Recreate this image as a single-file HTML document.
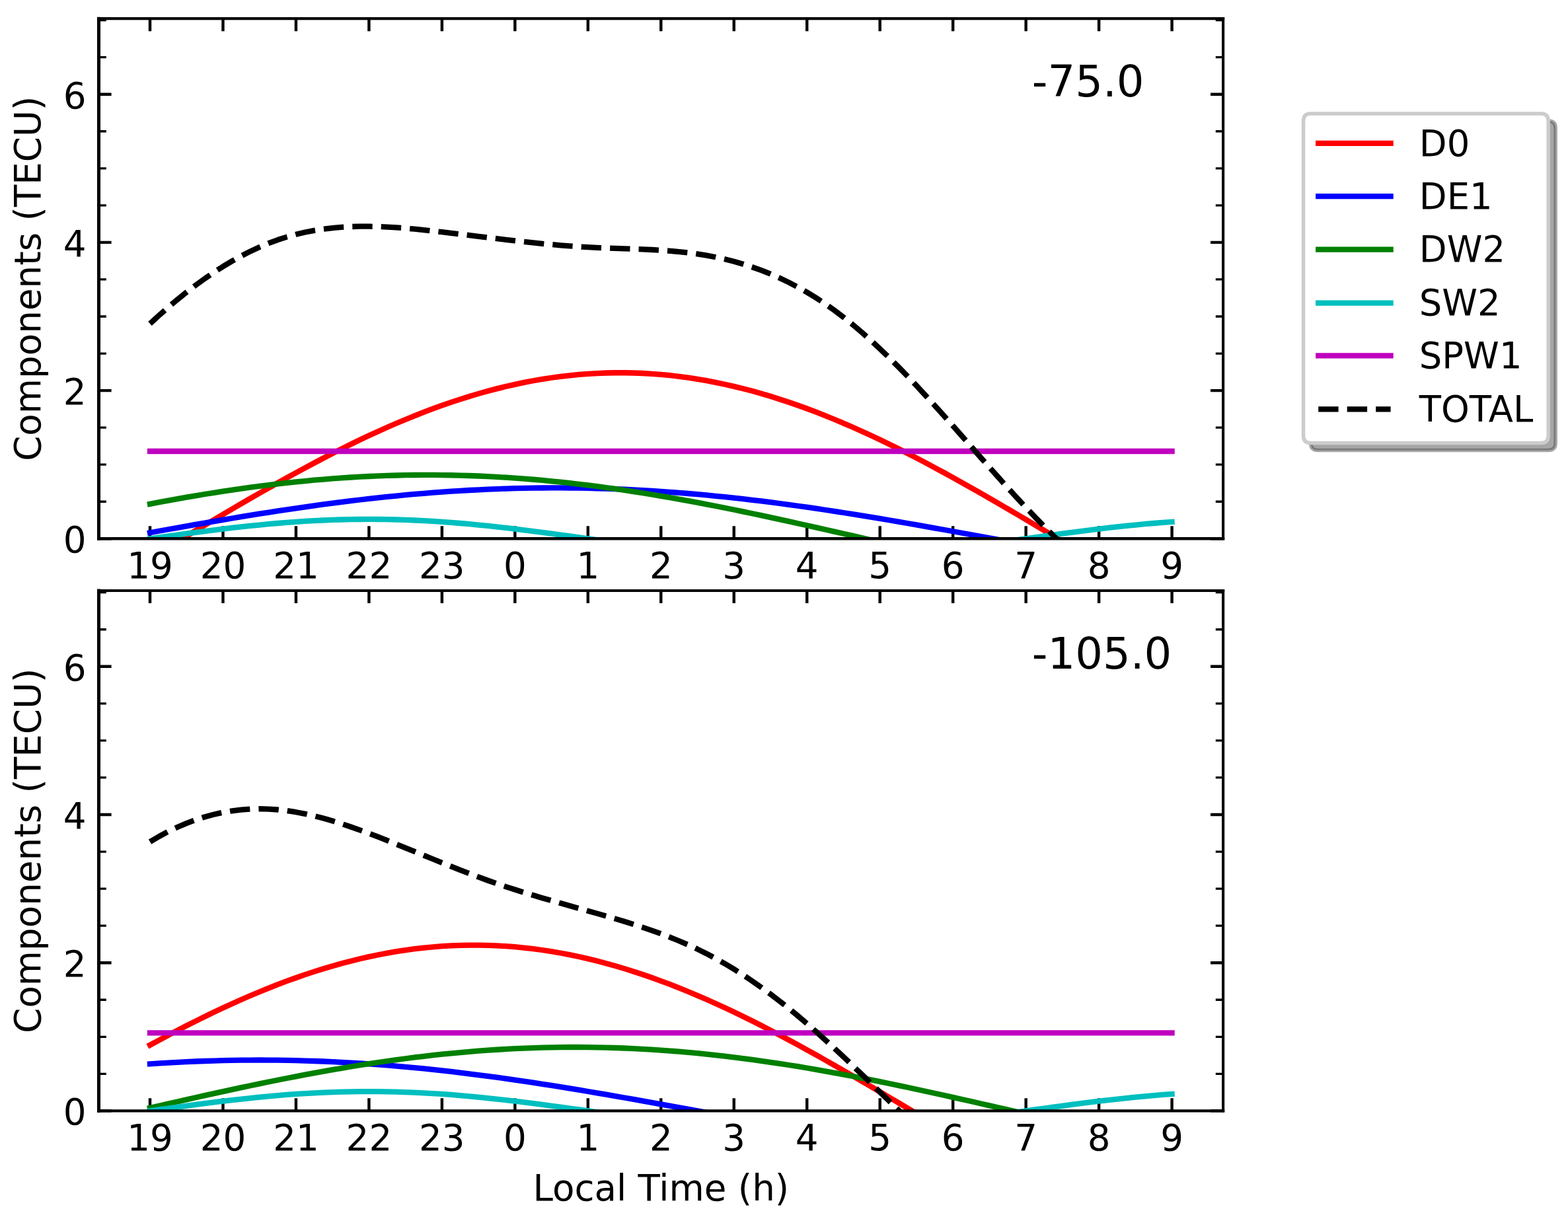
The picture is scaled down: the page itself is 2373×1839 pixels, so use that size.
<!DOCTYPE html>
<html lang="en">
<head>
<meta charset="utf-8">
<title>Tidal components versus local time</title>
<style>
html,body{margin:0;padding:0;background:#ffffff;}
body{width:2373px;height:1839px;overflow:hidden;}
svg{display:block;}
text{font-family:"DejaVu Sans", "Liberation Sans", sans-serif;}
</style>
</head>
<body>
<svg width="2373" height="1839" viewBox="0 0 2373 1839" role="img" aria-label="Tidal components of TEC versus local time at two longitudes" font-family='"DejaVu Sans", "Liberation Sans", sans-serif' fill="#000">
<rect x="0" y="0" width="2373" height="1839" fill="#ffffff"/>
<g id="panel1">
<clipPath id="clip1"><rect x="149.5" y="28.15" width="1701.6" height="787.15"/></clipPath>
<g stroke="#000" stroke-width="4.4" fill="none">
<path d="M227 815.3V796.2M227 28.15V47.25"/>
<path d="M337.47 815.3V796.2M337.47 28.15V47.25"/>
<path d="M447.94 815.3V796.2M447.94 28.15V47.25"/>
<path d="M558.41 815.3V796.2M558.41 28.15V47.25"/>
<path d="M668.88 815.3V796.2M668.88 28.15V47.25"/>
<path d="M779.35 815.3V796.2M779.35 28.15V47.25"/>
<path d="M889.82 815.3V796.2M889.82 28.15V47.25"/>
<path d="M1000.29 815.3V796.2M1000.29 28.15V47.25"/>
<path d="M1110.76 815.3V796.2M1110.76 28.15V47.25"/>
<path d="M1221.23 815.3V796.2M1221.23 28.15V47.25"/>
<path d="M1331.7 815.3V796.2M1331.7 28.15V47.25"/>
<path d="M1442.17 815.3V796.2M1442.17 28.15V47.25"/>
<path d="M1552.64 815.3V796.2M1552.64 28.15V47.25"/>
<path d="M1663.11 815.3V796.2M1663.11 28.15V47.25"/>
<path d="M1773.58 815.3V796.2M1773.58 28.15V47.25"/>
<path d="M149.5 815.3H168.6M1851.1 815.3H1832"/>
<path d="M149.5 591.1H168.6M1851.1 591.1H1832"/>
<path d="M149.5 366.9H168.6M1851.1 366.9H1832"/>
<path d="M149.5 142.7H168.6M1851.1 142.7H1832"/>
</g>
<g stroke="#000" stroke-width="3.3" fill="none">
<path d="M149.5 759.25H160.8M1851.1 759.25H1839.8"/>
<path d="M149.5 703.2H160.8M1851.1 703.2H1839.8"/>
<path d="M149.5 647.15H160.8M1851.1 647.15H1839.8"/>
<path d="M149.5 535.05H160.8M1851.1 535.05H1839.8"/>
<path d="M149.5 479H160.8M1851.1 479H1839.8"/>
<path d="M149.5 422.95H160.8M1851.1 422.95H1839.8"/>
<path d="M149.5 310.85H160.8M1851.1 310.85H1839.8"/>
<path d="M149.5 254.8H160.8M1851.1 254.8H1839.8"/>
<path d="M149.5 198.75H160.8M1851.1 198.75H1839.8"/>
<path d="M149.5 86.65H160.8M1851.1 86.65H1839.8"/>
<path d="M149.5 30.6H160.8M1851.1 30.6H1839.8"/>
</g>
<g clip-path="url(#clip1)" fill="none" stroke-width="8.3" stroke-linejoin="round">
<polyline stroke="#ff0000" stroke-linecap="square" points="227,844.16 240.81,835.98 254.62,827.79 268.43,819.57 282.24,811.36 296.04,803.14 309.85,794.94 323.66,786.77 337.47,778.62 351.28,770.51 365.09,762.45 378.9,754.45 392.7,746.51 406.51,738.64 420.32,730.86 434.13,723.17 447.94,715.57 461.75,708.09 475.56,700.72 489.37,693.47 503.18,686.35 516.98,679.37 530.79,672.53 544.6,665.85 558.41,659.33 572.22,652.97 586.03,646.79 599.84,640.79 613.64,634.98 627.45,629.35 641.26,623.93 655.07,618.72 668.88,613.71 682.69,608.92 696.5,604.35 710.31,600.01 724.12,595.89 737.92,592.01 751.73,588.37 765.54,584.98 779.35,581.83 793.16,578.93 806.97,576.28 820.78,573.89 834.59,571.76 848.39,569.89 862.2,568.28 876.01,566.94 889.82,565.86 903.63,565.05 917.44,564.51 931.25,564.23 945.05,564.23 958.86,564.49 972.67,565.02 986.48,565.82 1000.29,566.89 1014.1,568.22 1027.91,569.82 1041.72,571.68 1055.53,573.8 1069.33,576.18 1083.14,578.82 1096.95,581.71 1110.76,584.85 1124.57,588.23 1138.38,591.86 1152.19,595.73 1165.99,599.84 1179.8,604.17 1193.61,608.73 1207.42,613.51 1221.23,618.51 1235.04,623.72 1248.85,629.13 1262.66,634.75 1276.46,640.55 1290.27,646.55 1304.08,652.72 1317.89,659.07 1331.7,665.59 1345.51,672.26 1359.32,679.09 1373.13,686.07 1386.93,693.18 1400.74,700.42 1414.55,707.79 1428.36,715.27 1442.17,722.86 1455.98,730.55 1469.79,738.33 1483.6,746.19 1497.4,754.13 1511.21,762.13 1525.02,770.19 1538.83,778.29 1552.64,786.44 1566.45,794.62 1580.26,802.81 1594.07,811.03 1607.88,819.24 1621.68,827.46 1635.49,835.66 1649.3,843.83 1663.11,851.98 1676.92,860.09 1690.73,868.15 1704.54,876.15 1718.35,884.09 1732.15,891.96 1745.96,899.74 1759.77,907.43 1773.58,915.03"/>
<polyline stroke="#0000ff" stroke-linecap="square" points="227,806.26 240.81,803.77 254.62,801.29 268.43,798.82 282.24,796.37 296.04,793.94 309.85,791.54 323.66,789.16 337.47,786.8 351.28,784.48 365.09,782.19 378.9,779.94 392.7,777.72 406.51,775.55 420.32,773.42 434.13,771.33 447.94,769.29 461.75,767.3 475.56,765.36 489.37,763.47 503.18,761.64 516.98,759.87 530.79,758.15 544.6,756.5 558.41,754.91 572.22,753.38 586.03,751.92 599.84,750.53 613.64,749.21 627.45,747.96 641.26,746.78 655.07,745.68 668.88,744.64 682.69,743.69 696.5,742.81 710.31,742.01 724.12,741.29 737.92,740.64 751.73,740.08 765.54,739.6 779.35,739.2 793.16,738.87 806.97,738.64 820.78,738.48 834.59,738.41 848.39,738.41 862.2,738.5 876.01,738.68 889.82,738.93 903.63,739.27 917.44,739.69 931.25,740.19 945.05,740.77 958.86,741.42 972.67,742.16 986.48,742.98 1000.29,743.87 1014.1,744.84 1027.91,745.89 1041.72,747.01 1055.53,748.2 1069.33,749.47 1083.14,750.81 1096.95,752.21 1110.76,753.68 1124.57,755.22 1138.38,756.82 1152.19,758.49 1165.99,760.22 1179.8,762 1193.61,763.84 1207.42,765.74 1221.23,767.69 1235.04,769.69 1248.85,771.74 1262.66,773.84 1276.46,775.98 1290.27,778.16 1304.08,780.39 1317.89,782.65 1331.7,784.94 1345.51,787.27 1359.32,789.63 1373.13,792.02 1386.93,794.43 1400.74,796.86 1414.55,799.31 1428.36,801.78 1442.17,804.27 1455.98,806.76 1469.79,809.27 1483.6,811.78 1497.4,814.29 1511.21,816.81 1525.02,819.32 1538.83,821.84 1552.64,824.34 1566.45,826.83 1580.26,829.31 1594.07,831.78 1607.88,834.23 1621.68,836.66 1635.49,839.06 1649.3,841.44 1663.11,843.8 1676.92,846.12 1690.73,848.41 1704.54,850.66 1718.35,852.88 1732.15,855.05 1745.96,857.18 1759.77,859.27 1773.58,861.31"/>
<polyline stroke="#008000" stroke-linecap="square" points="227,762.79 240.81,760.18 254.62,757.62 268.43,755.12 282.24,752.69 296.04,750.32 309.85,748.03 323.66,745.81 337.47,743.66 351.28,741.58 365.09,739.59 378.9,737.68 392.7,735.85 406.51,734.11 420.32,732.45 434.13,730.88 447.94,729.4 461.75,728.02 475.56,726.72 489.37,725.53 503.18,724.42 516.98,723.42 530.79,722.51 544.6,721.71 558.41,721 572.22,720.4 586.03,719.89 599.84,719.49 613.64,719.19 627.45,719 641.26,718.9 655.07,718.91 668.88,719.03 682.69,719.24 696.5,719.56 710.31,719.98 724.12,720.51 737.92,721.13 751.73,721.86 765.54,722.69 779.35,723.61 793.16,724.64 806.97,725.76 820.78,726.97 834.59,728.29 848.39,729.69 862.2,731.19 876.01,732.77 889.82,734.45 903.63,736.21 917.44,738.05 931.25,739.98 945.05,741.99 958.86,744.08 972.67,746.24 986.48,748.48 1000.29,750.79 1014.1,753.17 1027.91,755.62 1041.72,758.12 1055.53,760.7 1069.33,763.32 1083.14,766.01 1096.95,768.75 1110.76,771.53 1124.57,774.37 1138.38,777.24 1152.19,780.16 1165.99,783.12 1179.8,786.11 1193.61,789.13 1207.42,792.18 1221.23,795.26 1235.04,798.35 1248.85,801.47 1262.66,804.6 1276.46,807.74 1290.27,810.88 1304.08,814.04 1317.89,817.19 1331.7,820.35 1345.51,823.49 1359.32,826.63 1373.13,829.76 1386.93,832.87 1400.74,835.96 1414.55,839.03 1428.36,842.08 1442.17,845.09 1455.98,848.08 1469.79,851.02 1483.6,853.93 1497.4,856.8 1511.21,859.63 1525.02,862.41 1538.83,865.13 1552.64,867.81 1566.45,870.42 1580.26,872.98 1594.07,875.48 1607.88,877.91 1621.68,880.28 1635.49,882.57 1649.3,884.79 1663.11,886.94 1676.92,889.02 1690.73,891.01 1704.54,892.92 1718.35,894.75 1732.15,896.49 1745.96,898.15 1759.77,899.72 1773.58,901.2"/>
<polyline stroke="#00bfbf" stroke-linecap="square" points="227,815.3 240.81,813.38 254.62,811.47 268.43,809.57 282.24,807.7 296.04,805.86 309.85,804.06 323.66,802.31 337.47,800.61 351.28,798.98 365.09,797.42 378.9,795.93 392.7,794.53 406.51,793.22 420.32,792 434.13,790.88 447.94,789.86 461.75,788.96 475.56,788.17 489.37,787.49 503.18,786.93 516.98,786.49 530.79,786.18 544.6,785.99 558.41,785.93 572.22,785.99 586.03,786.18 599.84,786.49 613.64,786.93 627.45,787.49 641.26,788.17 655.07,788.96 668.88,789.86 682.69,790.88 696.5,792 710.31,793.22 724.12,794.53 737.92,795.93 751.73,797.42 765.54,798.98 779.35,800.61 793.16,802.31 806.97,804.06 820.78,805.86 834.59,807.7 848.39,809.57 862.2,811.47 876.01,813.38 889.82,815.3 903.63,817.22 917.44,819.13 931.25,821.03 945.05,822.9 958.86,824.74 972.67,826.54 986.48,828.29 1000.29,829.99 1014.1,831.62 1027.91,833.18 1041.72,834.67 1055.53,836.07 1069.33,837.38 1083.14,838.6 1096.95,839.72 1110.76,840.74 1124.57,841.64 1138.38,842.43 1152.19,843.11 1165.99,843.67 1179.8,844.11 1193.61,844.42 1207.42,844.61 1221.23,844.67 1235.04,844.61 1248.85,844.42 1262.66,844.11 1276.46,843.67 1290.27,843.11 1304.08,842.43 1317.89,841.64 1331.7,840.74 1345.51,839.72 1359.32,838.6 1373.13,837.38 1386.93,836.07 1400.74,834.67 1414.55,833.18 1428.36,831.62 1442.17,829.99 1455.98,828.29 1469.79,826.54 1483.6,824.74 1497.4,822.9 1511.21,821.03 1525.02,819.13 1538.83,817.22 1552.64,815.3 1566.45,813.38 1580.26,811.47 1594.07,809.57 1607.88,807.7 1621.68,805.86 1635.49,804.06 1649.3,802.31 1663.11,800.61 1676.92,798.98 1690.73,797.42 1704.54,795.93 1718.35,794.53 1732.15,793.22 1745.96,792 1759.77,790.88 1773.58,789.86"/>
<polyline stroke="#bf00bf" stroke-linecap="square" points="227,683.02 240.81,683.02 254.62,683.02 268.43,683.02 282.24,683.02 296.04,683.02 309.85,683.02 323.66,683.02 337.47,683.02 351.28,683.02 365.09,683.02 378.9,683.02 392.7,683.02 406.51,683.02 420.32,683.02 434.13,683.02 447.94,683.02 461.75,683.02 475.56,683.02 489.37,683.02 503.18,683.02 516.98,683.02 530.79,683.02 544.6,683.02 558.41,683.02 572.22,683.02 586.03,683.02 599.84,683.02 613.64,683.02 627.45,683.02 641.26,683.02 655.07,683.02 668.88,683.02 682.69,683.02 696.5,683.02 710.31,683.02 724.12,683.02 737.92,683.02 751.73,683.02 765.54,683.02 779.35,683.02 793.16,683.02 806.97,683.02 820.78,683.02 834.59,683.02 848.39,683.02 862.2,683.02 876.01,683.02 889.82,683.02 903.63,683.02 917.44,683.02 931.25,683.02 945.05,683.02 958.86,683.02 972.67,683.02 986.48,683.02 1000.29,683.02 1014.1,683.02 1027.91,683.02 1041.72,683.02 1055.53,683.02 1069.33,683.02 1083.14,683.02 1096.95,683.02 1110.76,683.02 1124.57,683.02 1138.38,683.02 1152.19,683.02 1165.99,683.02 1179.8,683.02 1193.61,683.02 1207.42,683.02 1221.23,683.02 1235.04,683.02 1248.85,683.02 1262.66,683.02 1276.46,683.02 1290.27,683.02 1304.08,683.02 1317.89,683.02 1331.7,683.02 1345.51,683.02 1359.32,683.02 1373.13,683.02 1386.93,683.02 1400.74,683.02 1414.55,683.02 1428.36,683.02 1442.17,683.02 1455.98,683.02 1469.79,683.02 1483.6,683.02 1497.4,683.02 1511.21,683.02 1525.02,683.02 1538.83,683.02 1552.64,683.02 1566.45,683.02 1580.26,683.02 1594.07,683.02 1607.88,683.02 1621.68,683.02 1635.49,683.02 1649.3,683.02 1663.11,683.02 1676.92,683.02 1690.73,683.02 1704.54,683.02 1718.35,683.02 1732.15,683.02 1745.96,683.02 1759.77,683.02 1773.58,683.02"/>
<polyline stroke="#000" stroke-linecap="butt" stroke-dasharray="30.4 13.1" points="227,489.9 240.81,477.24 254.62,465.08 268.43,453.44 282.24,442.33 296.04,431.76 309.85,421.75 323.66,412.3 337.47,403.43 351.28,395.15 365.09,387.47 378.9,380.41 392.7,373.99 406.51,368.2 420.32,363.07 434.13,358.59 447.94,354.75 461.75,351.51 475.56,348.83 489.37,346.68 503.18,345.03 516.98,343.83 530.79,343.06 544.6,342.68 558.41,342.66 572.22,342.96 586.03,343.54 599.84,344.38 613.64,345.44 627.45,346.67 641.26,348.06 655.07,349.56 668.88,351.14 682.69,352.77 696.5,354.43 710.31,356.11 724.12,357.8 737.92,359.48 751.73,361.15 765.54,362.79 779.35,364.38 793.16,365.92 806.97,367.39 820.78,368.78 834.59,370.09 848.39,371.28 862.2,372.36 876.01,373.31 889.82,374.12 903.63,374.79 917.44,375.34 931.25,375.83 945.05,376.29 958.86,376.78 972.67,377.33 986.48,377.99 1000.29,378.79 1014.1,379.8 1027.91,381.04 1041.72,382.56 1055.53,384.41 1069.33,386.63 1083.14,389.26 1096.95,392.32 1110.76,395.82 1124.57,399.79 1138.38,404.25 1152.19,409.22 1165.99,414.71 1179.8,420.76 1193.61,427.37 1207.42,434.57 1221.23,442.38 1235.04,450.81 1248.85,459.89 1262.66,469.64 1276.46,480.07 1290.27,491.16 1304.08,502.86 1317.89,515.14 1331.7,527.95 1345.51,541.26 1359.32,555.01 1373.13,569.18 1386.93,583.71 1400.74,598.57 1414.55,613.71 1428.36,629.07 1442.17,644.61 1455.98,660.27 1469.79,675.97 1483.6,691.68 1497.4,707.32 1511.21,722.84 1525.02,738.18 1538.83,753.28 1552.64,768.1 1566.45,782.58 1580.26,796.74 1594.07,810.58 1607.88,824.09 1621.68,837.27 1635.49,850.13 1649.3,862.66 1663.11,874.86 1676.92,886.74 1690.73,898.3 1704.54,909.53 1718.35,920.43 1732.15,931 1745.96,941.25 1759.77,951.17 1773.58,960.77"/>
</g>
<g stroke="#000" fill="none" stroke-linecap="square"><path d="M149.5 28.15V815.3" stroke-width="5"/><path d="M1851.1 28.15V815.3" stroke-width="4.1"/><path d="M149.5 28.15H1851.1" stroke-width="4.2"/><path d="M149.5 815.3H1851.1" stroke-width="4.4"/></g>
<g font-size="54.7" text-anchor="middle">
<text x="227" y="875.3">19</text>
<text x="337.47" y="875.3">20</text>
<text x="447.94" y="875.3">21</text>
<text x="558.41" y="875.3">22</text>
<text x="668.88" y="875.3">23</text>
<text x="779.35" y="875.3">0</text>
<text x="889.82" y="875.3">1</text>
<text x="1000.29" y="875.3">2</text>
<text x="1110.76" y="875.3">3</text>
<text x="1221.23" y="875.3">4</text>
<text x="1331.7" y="875.3">5</text>
<text x="1442.17" y="875.3">6</text>
<text x="1552.64" y="875.3">7</text>
<text x="1663.11" y="875.3">8</text>
<text x="1773.58" y="875.3">9</text>
</g>
<g font-size="54.7" text-anchor="end">
<text x="130.5" y="836.1">0</text>
<text x="130.5" y="611.9">2</text>
<text x="130.5" y="387.7">4</text>
<text x="130.5" y="163.5">6</text>
</g>
<text font-size="54.7" text-anchor="middle" transform="translate(61.1 421.72) rotate(-90)">Components (TECU)</text>
<text font-size="65.6" x="1561.8" y="145.72">-75.0</text>
</g>
<g id="panel2">
<clipPath id="clip2"><rect x="149.5" y="894" width="1701.6" height="787.4"/></clipPath>
<g stroke="#000" stroke-width="4.4" fill="none">
<path d="M227 1681.4V1662.3M227 894V913.1"/>
<path d="M337.47 1681.4V1662.3M337.47 894V913.1"/>
<path d="M447.94 1681.4V1662.3M447.94 894V913.1"/>
<path d="M558.41 1681.4V1662.3M558.41 894V913.1"/>
<path d="M668.88 1681.4V1662.3M668.88 894V913.1"/>
<path d="M779.35 1681.4V1662.3M779.35 894V913.1"/>
<path d="M889.82 1681.4V1662.3M889.82 894V913.1"/>
<path d="M1000.29 1681.4V1662.3M1000.29 894V913.1"/>
<path d="M1110.76 1681.4V1662.3M1110.76 894V913.1"/>
<path d="M1221.23 1681.4V1662.3M1221.23 894V913.1"/>
<path d="M1331.7 1681.4V1662.3M1331.7 894V913.1"/>
<path d="M1442.17 1681.4V1662.3M1442.17 894V913.1"/>
<path d="M1552.64 1681.4V1662.3M1552.64 894V913.1"/>
<path d="M1663.11 1681.4V1662.3M1663.11 894V913.1"/>
<path d="M1773.58 1681.4V1662.3M1773.58 894V913.1"/>
<path d="M149.5 1681.4H168.6M1851.1 1681.4H1832"/>
<path d="M149.5 1457.2H168.6M1851.1 1457.2H1832"/>
<path d="M149.5 1233H168.6M1851.1 1233H1832"/>
<path d="M149.5 1008.8H168.6M1851.1 1008.8H1832"/>
</g>
<g stroke="#000" stroke-width="3.3" fill="none">
<path d="M149.5 1625.35H160.8M1851.1 1625.35H1839.8"/>
<path d="M149.5 1569.3H160.8M1851.1 1569.3H1839.8"/>
<path d="M149.5 1513.25H160.8M1851.1 1513.25H1839.8"/>
<path d="M149.5 1401.15H160.8M1851.1 1401.15H1839.8"/>
<path d="M149.5 1345.1H160.8M1851.1 1345.1H1839.8"/>
<path d="M149.5 1289.05H160.8M1851.1 1289.05H1839.8"/>
<path d="M149.5 1176.95H160.8M1851.1 1176.95H1839.8"/>
<path d="M149.5 1120.9H160.8M1851.1 1120.9H1839.8"/>
<path d="M149.5 1064.85H160.8M1851.1 1064.85H1839.8"/>
<path d="M149.5 952.75H160.8M1851.1 952.75H1839.8"/>
<path d="M149.5 896.7H160.8M1851.1 896.7H1839.8"/>
</g>
<g clip-path="url(#clip2)" fill="none" stroke-width="8.3" stroke-linejoin="round">
<polyline stroke="#ff0000" stroke-linecap="square" points="227,1581.76 240.81,1574.28 254.62,1566.92 268.43,1559.68 282.24,1552.56 296.04,1545.59 309.85,1538.76 323.66,1532.08 337.47,1525.57 351.28,1519.22 365.09,1513.04 378.9,1507.05 392.7,1501.24 406.51,1495.62 420.32,1490.2 434.13,1484.99 447.94,1479.99 461.75,1475.2 475.56,1470.64 489.37,1466.3 503.18,1462.19 516.98,1458.31 530.79,1454.68 544.6,1451.28 558.41,1448.14 572.22,1445.24 586.03,1442.6 599.84,1440.21 613.64,1438.08 627.45,1436.21 641.26,1434.6 655.07,1433.26 668.88,1432.18 682.69,1431.37 696.5,1430.83 710.31,1430.56 724.12,1430.55 737.92,1430.81 751.73,1431.35 765.54,1432.15 779.35,1433.21 793.16,1434.54 806.97,1436.14 820.78,1438 834.59,1440.12 848.39,1442.5 862.2,1445.13 876.01,1448.02 889.82,1451.15 903.63,1454.54 917.44,1458.16 931.25,1462.03 945.05,1466.13 958.86,1470.46 972.67,1475.02 986.48,1479.79 1000.29,1484.79 1014.1,1489.99 1027.91,1495.4 1041.72,1501.01 1055.53,1506.81 1069.33,1512.8 1083.14,1518.97 1096.95,1525.31 1110.76,1531.82 1124.57,1538.49 1138.38,1545.31 1152.19,1552.28 1165.99,1559.39 1179.8,1566.63 1193.61,1573.99 1207.42,1581.46 1221.23,1589.04 1235.04,1596.73 1248.85,1604.5 1262.66,1612.35 1276.46,1620.28 1290.27,1628.28 1304.08,1636.33 1317.89,1644.43 1331.7,1652.56 1345.51,1660.73 1359.32,1668.93 1373.13,1677.13 1386.93,1685.34 1400.74,1693.55 1414.55,1701.74 1428.36,1709.91 1442.17,1718.05 1455.98,1726.15 1469.79,1734.2 1483.6,1742.2 1497.4,1750.13 1511.21,1757.99 1525.02,1765.76 1538.83,1773.45 1552.64,1781.04 1566.45,1788.52 1580.26,1795.88 1594.07,1803.12 1607.88,1810.24 1621.68,1817.21 1635.49,1824.04 1649.3,1830.72 1663.11,1837.23 1676.92,1843.58 1690.73,1849.76 1704.54,1855.75 1718.35,1861.56 1732.15,1867.18 1745.96,1872.6 1759.77,1877.81 1773.58,1882.81"/>
<polyline stroke="#0000ff" stroke-linecap="square" points="227,1610.35 240.81,1609.43 254.62,1608.58 268.43,1607.81 282.24,1607.12 296.04,1606.51 309.85,1605.98 323.66,1605.53 337.47,1605.16 351.28,1604.87 365.09,1604.66 378.9,1604.54 392.7,1604.5 406.51,1604.54 420.32,1604.66 434.13,1604.87 447.94,1605.16 461.75,1605.53 475.56,1605.98 489.37,1606.51 503.18,1607.12 516.98,1607.81 530.79,1608.58 544.6,1609.43 558.41,1610.35 572.22,1611.35 586.03,1612.43 599.84,1613.58 613.64,1614.8 627.45,1616.1 641.26,1617.46 655.07,1618.89 668.88,1620.39 682.69,1621.96 696.5,1623.58 710.31,1625.27 724.12,1627.02 737.92,1628.83 751.73,1630.7 765.54,1632.61 779.35,1634.59 793.16,1636.61 806.97,1638.68 820.78,1640.79 834.59,1642.95 848.39,1645.15 862.2,1647.39 876.01,1649.66 889.82,1651.97 903.63,1654.31 917.44,1656.68 931.25,1659.08 945.05,1661.5 958.86,1663.94 972.67,1666.4 986.48,1668.87 1000.29,1671.36 1014.1,1673.86 1027.91,1676.37 1041.72,1678.88 1055.53,1681.4 1069.33,1683.92 1083.14,1686.43 1096.95,1688.94 1110.76,1691.44 1124.57,1693.93 1138.38,1696.4 1152.19,1698.86 1165.99,1701.3 1179.8,1703.72 1193.61,1706.12 1207.42,1708.49 1221.23,1710.83 1235.04,1713.14 1248.85,1715.41 1262.66,1717.65 1276.46,1719.85 1290.27,1722.01 1304.08,1724.12 1317.89,1726.19 1331.7,1728.21 1345.51,1730.19 1359.32,1732.1 1373.13,1733.97 1386.93,1735.78 1400.74,1737.53 1414.55,1739.22 1428.36,1740.84 1442.17,1742.41 1455.98,1743.91 1469.79,1745.34 1483.6,1746.7 1497.4,1748 1511.21,1749.22 1525.02,1750.37 1538.83,1751.45 1552.64,1752.45 1566.45,1753.37 1580.26,1754.22 1594.07,1754.99 1607.88,1755.68 1621.68,1756.29 1635.49,1756.82 1649.3,1757.27 1663.11,1757.64 1676.92,1757.93 1690.73,1758.14 1704.54,1758.26 1718.35,1758.3 1732.15,1758.26 1745.96,1758.14 1759.77,1757.93 1773.58,1757.64"/>
<polyline stroke="#008000" stroke-linecap="square" points="227,1676.86 240.81,1673.71 254.62,1670.57 268.43,1667.44 282.24,1664.33 296.04,1661.23 309.85,1658.16 323.66,1655.11 337.47,1652.09 351.28,1649.1 365.09,1646.15 378.9,1643.23 392.7,1640.35 406.51,1637.52 420.32,1634.74 434.13,1632 447.94,1629.32 461.75,1626.69 475.56,1624.12 489.37,1621.62 503.18,1619.17 516.98,1616.8 530.79,1614.49 544.6,1612.26 558.41,1610.1 572.22,1608.01 586.03,1606 599.84,1604.08 613.64,1602.24 627.45,1600.48 641.26,1598.81 655.07,1597.22 668.88,1595.73 682.69,1594.33 696.5,1593.02 710.31,1591.81 724.12,1590.69 737.92,1589.67 751.73,1588.75 765.54,1587.93 779.35,1587.21 793.16,1586.59 806.97,1586.07 820.78,1585.65 834.59,1585.33 848.39,1585.12 862.2,1585.01 876.01,1585 889.82,1585.1 903.63,1585.3 917.44,1585.6 931.25,1586.01 945.05,1586.52 958.86,1587.13 972.67,1587.84 986.48,1588.65 1000.29,1589.56 1014.1,1590.57 1027.91,1591.67 1041.72,1592.87 1055.53,1594.17 1069.33,1595.56 1083.14,1597.04 1096.95,1598.61 1110.76,1600.27 1124.57,1602.02 1138.38,1603.85 1152.19,1605.77 1165.99,1607.77 1179.8,1609.84 1193.61,1611.99 1207.42,1614.22 1221.23,1616.52 1235.04,1618.89 1248.85,1621.32 1262.66,1623.82 1276.46,1626.38 1290.27,1629 1304.08,1631.68 1317.89,1634.4 1331.7,1637.18 1345.51,1640.01 1359.32,1642.88 1373.13,1645.79 1386.93,1648.74 1400.74,1651.73 1414.55,1654.75 1428.36,1657.79 1442.17,1660.86 1455.98,1663.96 1469.79,1667.07 1483.6,1670.19 1497.4,1673.33 1511.21,1676.48 1525.02,1679.63 1538.83,1682.79 1552.64,1685.94 1566.45,1689.09 1580.26,1692.23 1594.07,1695.36 1607.88,1698.47 1621.68,1701.57 1635.49,1704.64 1649.3,1707.69 1663.11,1710.71 1676.92,1713.7 1690.73,1716.65 1704.54,1719.57 1718.35,1722.45 1732.15,1725.28 1745.96,1728.06 1759.77,1730.8 1773.58,1733.48"/>
<polyline stroke="#00bfbf" stroke-linecap="square" points="227,1681.4 240.81,1679.48 254.62,1677.57 268.43,1675.67 282.24,1673.8 296.04,1671.96 309.85,1670.16 323.66,1668.41 337.47,1666.71 351.28,1665.08 365.09,1663.52 378.9,1662.03 392.7,1660.63 406.51,1659.32 420.32,1658.1 434.13,1656.98 447.94,1655.96 461.75,1655.06 475.56,1654.27 489.37,1653.59 503.18,1653.03 516.98,1652.59 530.79,1652.28 544.6,1652.09 558.41,1652.03 572.22,1652.09 586.03,1652.28 599.84,1652.59 613.64,1653.03 627.45,1653.59 641.26,1654.27 655.07,1655.06 668.88,1655.96 682.69,1656.98 696.5,1658.1 710.31,1659.32 724.12,1660.63 737.92,1662.03 751.73,1663.52 765.54,1665.08 779.35,1666.71 793.16,1668.41 806.97,1670.16 820.78,1671.96 834.59,1673.8 848.39,1675.67 862.2,1677.57 876.01,1679.48 889.82,1681.4 903.63,1683.32 917.44,1685.23 931.25,1687.13 945.05,1689 958.86,1690.84 972.67,1692.64 986.48,1694.39 1000.29,1696.09 1014.1,1697.72 1027.91,1699.28 1041.72,1700.77 1055.53,1702.17 1069.33,1703.48 1083.14,1704.7 1096.95,1705.82 1110.76,1706.84 1124.57,1707.74 1138.38,1708.53 1152.19,1709.21 1165.99,1709.77 1179.8,1710.21 1193.61,1710.52 1207.42,1710.71 1221.23,1710.77 1235.04,1710.71 1248.85,1710.52 1262.66,1710.21 1276.46,1709.77 1290.27,1709.21 1304.08,1708.53 1317.89,1707.74 1331.7,1706.84 1345.51,1705.82 1359.32,1704.7 1373.13,1703.48 1386.93,1702.17 1400.74,1700.77 1414.55,1699.28 1428.36,1697.72 1442.17,1696.09 1455.98,1694.39 1469.79,1692.64 1483.6,1690.84 1497.4,1689 1511.21,1687.13 1525.02,1685.23 1538.83,1683.32 1552.64,1681.4 1566.45,1679.48 1580.26,1677.57 1594.07,1675.67 1607.88,1673.8 1621.68,1671.96 1635.49,1670.16 1649.3,1668.41 1663.11,1666.71 1676.92,1665.08 1690.73,1663.52 1704.54,1662.03 1718.35,1660.63 1732.15,1659.32 1745.96,1658.1 1759.77,1656.98 1773.58,1655.96"/>
<polyline stroke="#bf00bf" stroke-linecap="square" points="227,1563.36 240.81,1563.36 254.62,1563.36 268.43,1563.36 282.24,1563.36 296.04,1563.36 309.85,1563.36 323.66,1563.36 337.47,1563.36 351.28,1563.36 365.09,1563.36 378.9,1563.36 392.7,1563.36 406.51,1563.36 420.32,1563.36 434.13,1563.36 447.94,1563.36 461.75,1563.36 475.56,1563.36 489.37,1563.36 503.18,1563.36 516.98,1563.36 530.79,1563.36 544.6,1563.36 558.41,1563.36 572.22,1563.36 586.03,1563.36 599.84,1563.36 613.64,1563.36 627.45,1563.36 641.26,1563.36 655.07,1563.36 668.88,1563.36 682.69,1563.36 696.5,1563.36 710.31,1563.36 724.12,1563.36 737.92,1563.36 751.73,1563.36 765.54,1563.36 779.35,1563.36 793.16,1563.36 806.97,1563.36 820.78,1563.36 834.59,1563.36 848.39,1563.36 862.2,1563.36 876.01,1563.36 889.82,1563.36 903.63,1563.36 917.44,1563.36 931.25,1563.36 945.05,1563.36 958.86,1563.36 972.67,1563.36 986.48,1563.36 1000.29,1563.36 1014.1,1563.36 1027.91,1563.36 1041.72,1563.36 1055.53,1563.36 1069.33,1563.36 1083.14,1563.36 1096.95,1563.36 1110.76,1563.36 1124.57,1563.36 1138.38,1563.36 1152.19,1563.36 1165.99,1563.36 1179.8,1563.36 1193.61,1563.36 1207.42,1563.36 1221.23,1563.36 1235.04,1563.36 1248.85,1563.36 1262.66,1563.36 1276.46,1563.36 1290.27,1563.36 1304.08,1563.36 1317.89,1563.36 1331.7,1563.36 1345.51,1563.36 1359.32,1563.36 1373.13,1563.36 1386.93,1563.36 1400.74,1563.36 1414.55,1563.36 1428.36,1563.36 1442.17,1563.36 1455.98,1563.36 1469.79,1563.36 1483.6,1563.36 1497.4,1563.36 1511.21,1563.36 1525.02,1563.36 1538.83,1563.36 1552.64,1563.36 1566.45,1563.36 1580.26,1563.36 1594.07,1563.36 1607.88,1563.36 1621.68,1563.36 1635.49,1563.36 1649.3,1563.36 1663.11,1563.36 1676.92,1563.36 1690.73,1563.36 1704.54,1563.36 1718.35,1563.36 1732.15,1563.36 1745.96,1563.36 1759.77,1563.36 1773.58,1563.36"/>
<polyline stroke="#000" stroke-linecap="butt" stroke-dasharray="30.4 13.1" points="227,1274.09 240.81,1265.97 254.62,1258.59 268.43,1251.96 282.24,1246.06 296.04,1240.88 309.85,1236.43 323.66,1232.68 337.47,1229.62 351.28,1227.26 365.09,1225.58 378.9,1224.58 392.7,1224.24 406.51,1224.55 420.32,1225.51 434.13,1227.08 447.94,1229.21 461.75,1231.86 475.56,1234.99 489.37,1238.55 503.18,1242.51 516.98,1246.82 530.79,1251.44 544.6,1256.33 558.41,1261.44 572.22,1266.73 586.03,1272.16 599.84,1277.69 613.64,1283.28 627.45,1288.92 641.26,1294.58 655.07,1300.23 668.88,1305.85 682.69,1311.4 696.5,1316.87 710.31,1322.23 724.12,1327.46 737.92,1332.52 751.73,1337.39 765.54,1342.06 779.35,1346.55 793.16,1350.88 806.97,1355.07 820.78,1359.15 834.59,1363.15 848.39,1367.08 862.2,1370.97 876.01,1374.84 889.82,1378.72 903.63,1382.63 917.44,1386.6 931.25,1390.64 945.05,1394.81 958.86,1399.12 972.67,1403.62 986.48,1408.34 1000.29,1413.33 1014.1,1418.61 1027.91,1424.23 1041.72,1430.21 1055.53,1436.6 1069.33,1443.44 1083.14,1450.75 1096.95,1458.56 1110.76,1466.86 1124.57,1475.64 1138.38,1484.87 1152.19,1494.56 1165.99,1504.68 1179.8,1515.24 1193.61,1526.2 1207.42,1537.57 1221.23,1549.32 1235.04,1561.44 1248.85,1573.89 1262.66,1586.62 1276.46,1599.59 1290.27,1612.75 1304.08,1626.05 1317.89,1639.45 1331.7,1652.91 1345.51,1666.37 1359.32,1679.81 1373.13,1693.16 1386.93,1706.41 1400.74,1719.53 1414.55,1732.5 1428.36,1745.3 1442.17,1757.91 1455.98,1770.3 1469.79,1782.45 1483.6,1794.35 1497.4,1805.96 1511.21,1817.27 1525.02,1828.25 1538.83,1838.88 1552.64,1849.14 1566.45,1859.02 1580.26,1868.5 1594.07,1877.59 1607.88,1886.3 1621.68,1894.63 1635.49,1902.57 1649.3,1910.13 1663.11,1917.32 1676.92,1924.13 1690.73,1930.57 1704.54,1936.63 1718.35,1942.33 1732.15,1947.66 1745.96,1952.63 1759.77,1957.23 1773.58,1961.47"/>
</g>
<g stroke="#000" fill="none" stroke-linecap="square"><path d="M149.5 894V1681.4" stroke-width="5"/><path d="M1851.1 894V1681.4" stroke-width="4.1"/><path d="M149.5 894H1851.1" stroke-width="4.2"/><path d="M149.5 1681.4H1851.1" stroke-width="4.4"/></g>
<g font-size="54.7" text-anchor="middle">
<text x="227" y="1741.4">19</text>
<text x="337.47" y="1741.4">20</text>
<text x="447.94" y="1741.4">21</text>
<text x="558.41" y="1741.4">22</text>
<text x="668.88" y="1741.4">23</text>
<text x="779.35" y="1741.4">0</text>
<text x="889.82" y="1741.4">1</text>
<text x="1000.29" y="1741.4">2</text>
<text x="1110.76" y="1741.4">3</text>
<text x="1221.23" y="1741.4">4</text>
<text x="1331.7" y="1741.4">5</text>
<text x="1442.17" y="1741.4">6</text>
<text x="1552.64" y="1741.4">7</text>
<text x="1663.11" y="1741.4">8</text>
<text x="1773.58" y="1741.4">9</text>
</g>
<g font-size="54.7" text-anchor="end">
<text x="130.5" y="1702.2">0</text>
<text x="130.5" y="1478">2</text>
<text x="130.5" y="1253.8">4</text>
<text x="130.5" y="1029.6">6</text>
</g>
<text font-size="54.7" text-anchor="middle" transform="translate(61.1 1287.7) rotate(-90)">Components (TECU)</text>
<text font-size="65.6" x="1561.8" y="1011.61">-105.0</text>
</g>
<text font-size="54.7" text-anchor="middle" x="1000.3" y="1817.2">Local Time (h)</text>
<g id="legend">
<path d="M1994.55 183.05H2343.2Q2354.2 183.05 2354.2 194.05V670.6Q2354.2 681.6 2343.2 681.6H1994.55Q1983.55 681.6 1983.55 670.6V194.05Q1983.55 183.05 1994.55 183.05Z" fill="#4d4d4d" fill-opacity="0.5" stroke="#4d4d4d" stroke-opacity="0.5" stroke-width="5.5" stroke-linejoin="miter"/>
<path d="M1983.55 172.05H2332.2Q2343.2 172.05 2343.2 183.05V659.6Q2343.2 670.6 2332.2 670.6H1983.55Q1972.55 670.6 1972.55 659.6V183.05Q1972.55 172.05 1983.55 172.05Z" fill="#ffffff" stroke="#cccccc" stroke-width="5.5" stroke-linejoin="miter"/>
<path d="M1995.2 216.9H2104.6" stroke="#ff0000" stroke-width="8.3" stroke-linecap="square" fill="none"/>
<text font-size="54.4" x="2147.8" y="235.6">D0</text>
<path d="M1995.2 297.1H2104.6" stroke="#0000ff" stroke-width="8.3" stroke-linecap="square" fill="none"/>
<text font-size="54.4" x="2147.8" y="315.8">DE1</text>
<path d="M1995.2 377.6H2104.6" stroke="#008000" stroke-width="8.3" stroke-linecap="square" fill="none"/>
<text font-size="54.4" x="2147.8" y="396.3">DW2</text>
<path d="M1995.2 458.6H2104.6" stroke="#00bfbf" stroke-width="8.3" stroke-linecap="square" fill="none"/>
<text font-size="54.4" x="2147.8" y="477.3">SW2</text>
<path d="M1995.2 538.4H2104.6" stroke="#bf00bf" stroke-width="8.3" stroke-linecap="square" fill="none"/>
<text font-size="54.4" x="2147.8" y="557.1">SPW1</text>
<path d="M1995.2 619.3H2104.6" stroke="#000" stroke-width="8.3" stroke-dasharray="30.4 13.1" fill="none"/>
<text font-size="54.4" x="2147.8" y="638">TOTAL</text>
</g>
</svg>
</body>
</html>
